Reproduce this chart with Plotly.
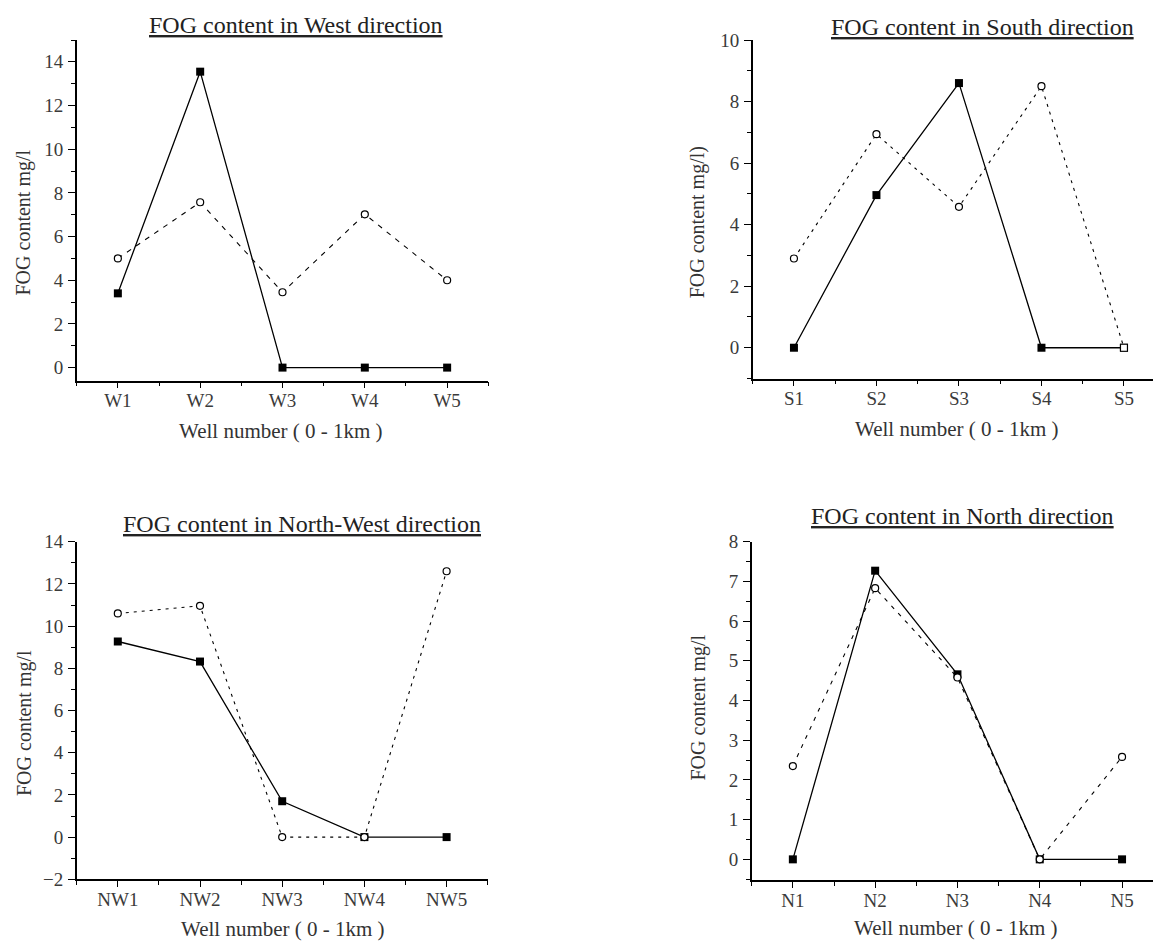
import plotly.graph_objects as go

# ---------------- data ----------------
west_wells = ["W1", "W2", "W3", "W4", "W5"]
west_solid = [3.4, 13.55, 0, 0, 0]
west_dashed = [5.0, 7.57, 3.45, 7.02, 4.0]

south_wells = ["S1", "S2", "S3", "S4", "S5"]
south_solid = [0, 4.96, 8.6, 0, 0]
south_dashed = [2.9, 6.94, 4.58, 8.5, 0]

nw_wells = ["NW1", "NW2", "NW3", "NW4", "NW5"]
nw_solid = [9.27, 8.32, 1.7, 0, 0]
nw_dashed = [10.6, 10.96, 0, 0, 12.6]

north_wells = ["N1", "N2", "N3", "N4", "N5"]
north_solid = [0, 7.27, 4.66, 0, 0]
north_dashed = [2.35, 6.83, 4.58, 0, 2.58]

titles = ["FOG content in West direction", "FOG content in South direction",
          "FOG content in North-West direction", "FOG content in North direction"]
ytitles = ["FOG content mg/l", "FOG content mg/l)", "FOG content mg/l", "FOG content mg/l"]
xtitle = "Well number ( 0 - 1km )"

W, H = 1153, 942
FONT = "Liberation Serif"
TICKC = "#3a3a3a"

fig = go.Figure()

panels = [
    dict(wells=west_wells, solid=west_solid, dashed=west_dashed,
         xd=(76.7, 488.3), yd=(40, 380.7), yr=(-0.6, 15), dt=2, mdt=1, xend=5.5, dsym=None, dash="5px,6px"),
    dict(wells=south_wells, solid=south_solid, dashed=south_dashed,
         xd=(752.7, 1153), yd=(40, 378.5), yr=(-1, 10), dt=2, mdt=1, xend=5.352,
         dsym=["circle", "circle", "circle", "circle", "square"], dash="3px,5px"),
    dict(wells=nw_wells, solid=nw_solid, dashed=nw_dashed,
         xd=(76.7, 487.7), yd=(541.7, 879.3), yr=(-2, 14), dt=2, mdt=1, xend=5.5, dsym=None, dash="3px,5px"),
    dict(wells=north_wells, solid=north_solid, dashed=north_dashed,
         xd=(751.7, 1153), yd=(541.7, 880), yr=(-0.52, 8), dt=1, mdt=0.5, xend=5.376, dsym=None, dash="4px,6px"),
]

layout = dict(
    width=W, height=H, margin=dict(l=0, r=0, t=0, b=0, autoexpand=False),
    paper_bgcolor="white", plot_bgcolor="white", showlegend=False,
    font=dict(family=FONT, color="#222"),
)

for i, p in enumerate(panels):
    n = "" if i == 0 else str(i + 1)
    xa, ya = "x" + n, "y" + n
    pos = list(range(1, len(p["wells"]) + 1))
    fig.add_trace(go.Scatter(
        x=pos, y=p["solid"], xaxis=xa, yaxis=ya, mode="lines+markers",
        line=dict(color="black", width=1.3),
        marker=dict(symbol="square", size=8, color="black"),
        cliponaxis=False))
    dsym = p["dsym"] if p["dsym"] else "circle"
    fig.add_trace(go.Scatter(
        x=pos, y=p["dashed"], xaxis=xa, yaxis=ya, mode="lines+markers",
        line=dict(color="black", width=1.1, dash=p["dash"]),
        marker=dict(symbol=dsym, size=7, color="white", line=dict(color="black", width=1.2)),
        cliponaxis=False))

    x0, x1 = p["xd"]
    yt, yb = p["yd"]
    axis_common = dict(showline=True, linecolor="black", linewidth=1.5, showgrid=False,
                       zeroline=False, ticks="outside", tickcolor="black", tickwidth=1.3,
                       automargin=False,
                       tickfont=dict(family=FONT, size=19, color=TICKC))
    layout["xaxis" + n] = dict(
        axis_common, domain=[x0 / W, x1 / W], range=[0.5, p["xend"]], anchor=ya,
        tickmode="array", tickvals=pos, ticktext=p["wells"], ticklen=6,
        minor=dict(tickmode="array", tickvals=[v + 0.5 for v in [0] + pos], ticks="outside",
                   ticklen=4, tickcolor="black", tickwidth=1.2),
        ticklabelstandoff=-4)
    layout["yaxis" + n] = dict(
        axis_common, domain=[1 - yb / H, 1 - yt / H], range=list(p["yr"]), anchor=xa,
        tick0=0, dtick=p["dt"], ticklen=7,
        minor=dict(tick0=0, dtick=p["mdt"], ticks="outside", ticklen=4,
                   tickcolor="black", tickwidth=1.2),
        ticklabelstandoff=1)

ann = []
title_pos = [(296, 25), (983, 27), (302, 524), (962, 516)]
ytitle_pos = [(22.5, 223), (698.3, 222), (24, 723), (697.5, 708)]
xtitle_pos = [(281, 431), (957, 429), (283, 929), (956, 928)]
for i in range(4):
    tx, ty = title_pos[i]
    ann.append(dict(text="<u>" + titles[i] + "</u>", x=tx / W, y=1 - ty / H, xref="paper", yref="paper",
                    xanchor="center", yanchor="middle", showarrow=False,
                    font=dict(family=FONT, size=24, color="#222")))
    yx, yy = ytitle_pos[i]
    ann.append(dict(text=ytitles[i], x=yx / W, y=1 - yy / H, xref="paper", yref="paper",
                    xanchor="center", yanchor="middle", showarrow=False, textangle=-90,
                    font=dict(family=FONT, size=20, color="#333")))
    xx, xy = xtitle_pos[i]
    ann.append(dict(text=xtitle, x=xx / W, y=1 - xy / H, xref="paper", yref="paper",
                    xanchor="center", yanchor="middle", showarrow=False,
                    font=dict(family=FONT, size=21, color="#333")))
layout["annotations"] = ann

fig.update_layout(layout)
fig.write_html("out.html", config={"displayModeBar": False},
               post_script="document.body.style.margin='0';document.body.style.overflow='hidden';")
